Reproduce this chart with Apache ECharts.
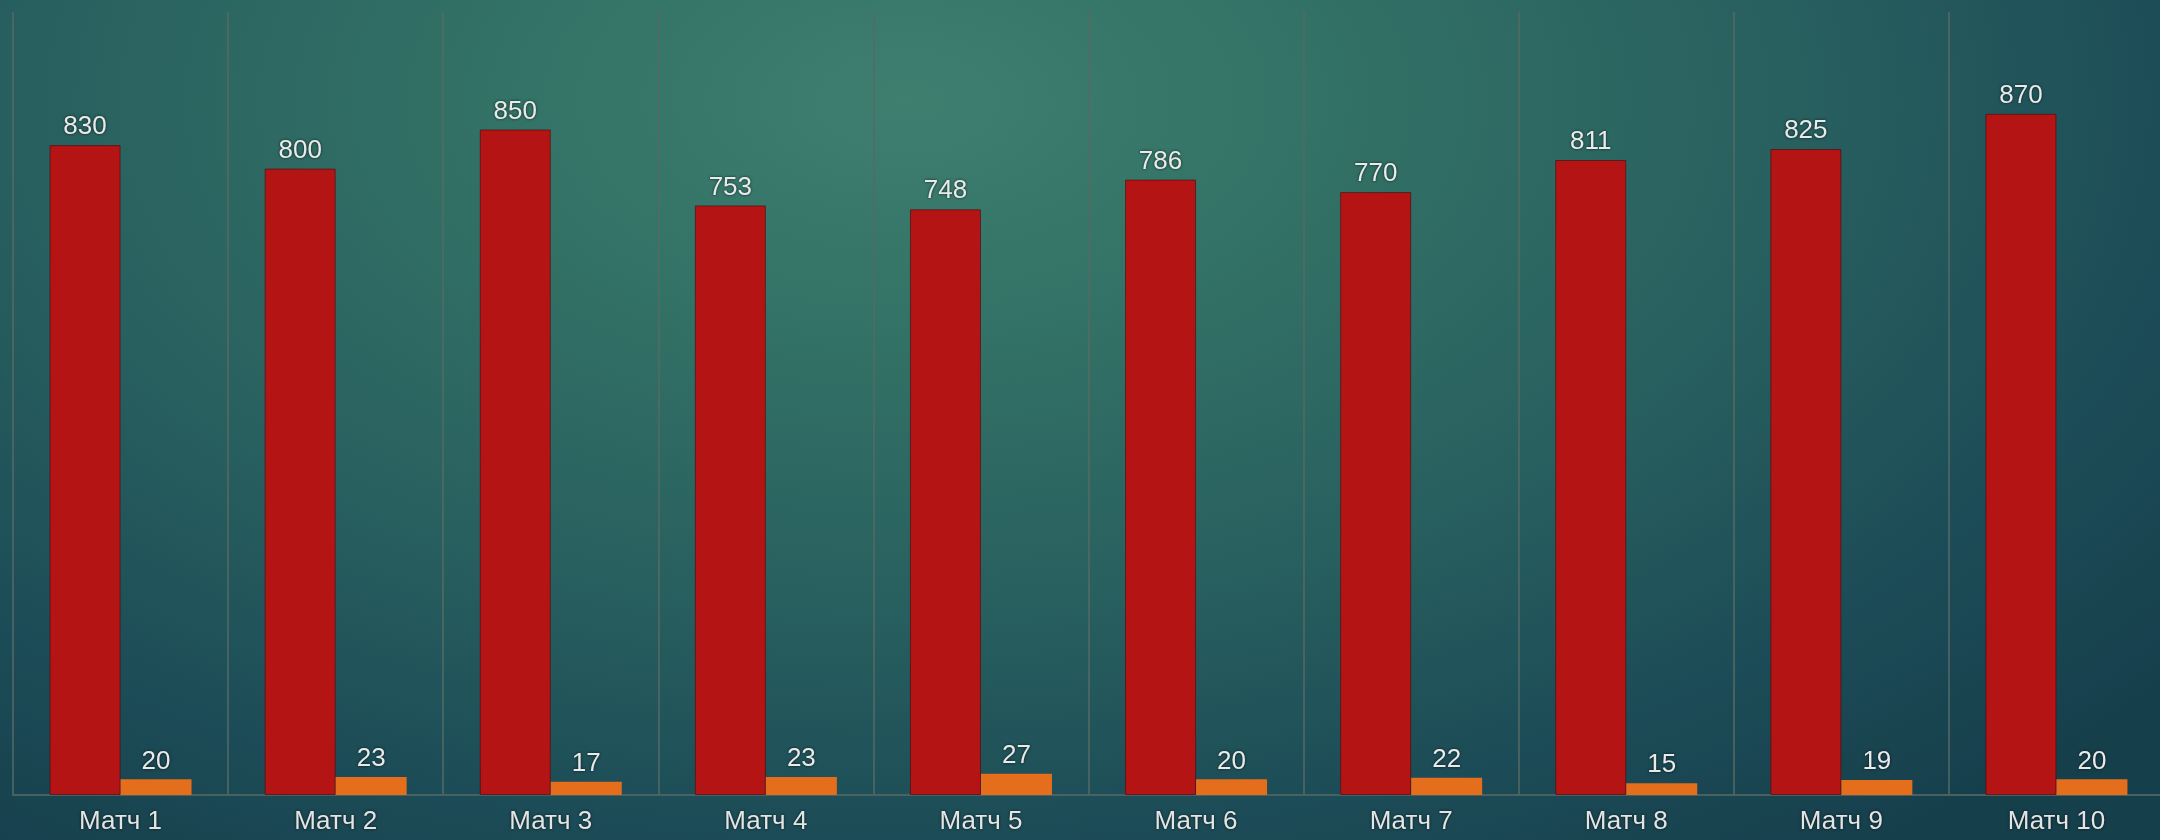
<!DOCTYPE html>
<html>
<head>
<meta charset="utf-8">
<script src="https://cdn.jsdelivr.net/npm/echarts@6/dist/echarts.min.js"></script>
<style>
html,body{margin:0;padding:0;width:2160px;height:840px;overflow:hidden;}
body{background:
 radial-gradient(ellipse 75% 110% at 42% 12%, #3e7f70 0%, #337266 25%, #285f5f 55%, #1c4c57 80%, #163f4c 100%);}
#c{width:2160px;height:840px;}
</style>
</head>
<body>
<div id="c"></div>
<script>
const categories = ['Матч 1','Матч 2','Матч 3','Матч 4','Матч 5','Матч 6','Матч 7','Матч 8','Матч 9','Матч 10'];
const seriesA = [830, 800, 850, 753, 748, 786, 770, 811, 825, 870];
const seriesB = [20, 23, 17, 23, 27, 20, 22, 15, 19, 20];

const chart = echarts.init(document.getElementById('c'));
const labelStyle = {
  show: true, position: 'top', distance: 5,
  color: '#e8ebea', fontSize: 26, fontFamily: 'Liberation Sans',
  textShadowColor: 'rgba(0,0,0,0.7)', textShadowBlur: 3
};
chart.setOption({
  backgroundColor: 'transparent',
  animation: false,
  grid: { left: 13, width: 2151, top: 12, bottom: 45, outerBoundsMode: 'none', containLabel: false },
  xAxis: {
    type: 'category',
    data: categories,
    axisLine: { show: true, lineStyle: { color: 'rgba(80,100,100,0.9)', width: 2 } },
    axisTick: { show: false },
    splitLine: { show: true, interval: 0, lineStyle: { color: 'rgba(85,105,100,0.75)', width: 2 } },
    axisLabel: { color: '#e2e5e4', fontSize: 26, fontFamily: 'Liberation Sans', margin: 14,
      textShadowColor: 'rgba(0,0,0,0.7)', textShadowBlur: 3 }
  },
  yAxis: { type: 'value', min: 0, max: 1000, show: false, splitLine: { show: false } },
  series: [
    { type: 'bar', data: seriesA, barWidth: 71, barGap: '0%',
      itemStyle: { color: '#b51414', borderColor: 'rgba(70,10,10,0.6)', borderWidth: 1 },
      label: labelStyle },
    { type: 'bar', data: seriesB, barWidth: 71,
      itemStyle: { color: '#e46e1c' },
      label: labelStyle }
  ]
});
</script>
</body>
</html>
